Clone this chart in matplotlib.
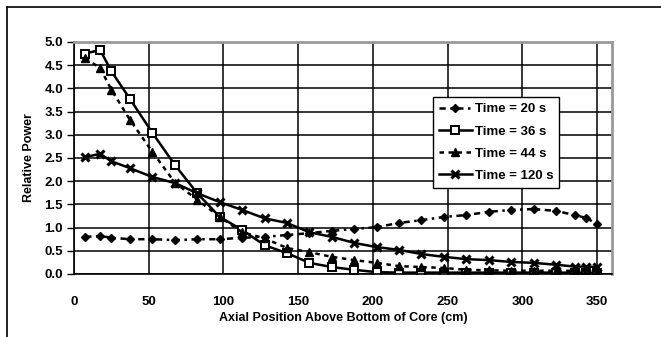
import numpy as np
import matplotlib.pyplot as plt
from matplotlib.lines import Line2D

plt.rcParams['font.family'] = ['Liberation Sans', 'DejaVu Sans']
plt.rcParams['font.weight'] = 'bold'

# axial node positions (cm)
pos = [7.5, 17.5, 25, 37.5, 52.5, 67.5, 82.5, 97.5, 112.5, 127.5, 142.5, 157.5, 172.5,
       187.5, 202.5, 217.5, 232.5, 247.5, 262.5, 277.5, 292.5, 307.5, 322.5, 335, 342.5, 350]

p20 = [0.80, 0.82, 0.78, 0.75, 0.75, 0.73, 0.75, 0.75, 0.78, 0.80, 0.84, 0.88, 0.93,
       0.97, 1.01, 1.10, 1.16, 1.23, 1.27, 1.34, 1.38, 1.40, 1.36, 1.27, 1.21, 1.08]
p36 = [4.75, 4.83, 4.37, 3.77, 3.04, 2.35, 1.74, 1.23, 0.95, 0.62, 0.45, 0.24, 0.15,
       0.09, 0.04, 0.03, 0.03, 0.03, 0.03, 0.03, 0.03, 0.03, 0.03, 0.03, 0.03, 0.03]
p44 = [4.65, 4.44, 3.97, 3.32, 2.63, 1.97, 1.60, 1.23, 0.90, 0.77, 0.56, 0.47, 0.37,
       0.30, 0.24, 0.17, 0.15, 0.13, 0.09, 0.08, 0.07, 0.07, 0.07, 0.07, 0.07, 0.07]
p120 = [2.52, 2.59, 2.43, 2.28, 2.09, 1.96, 1.74, 1.55, 1.38, 1.20, 1.10, 0.90, 0.80,
        0.67, 0.58, 0.52, 0.43, 0.37, 0.32, 0.30, 0.26, 0.24, 0.20, 0.16, 0.16, 0.15]

fig = plt.figure(figsize=(6.61, 3.37), dpi=100)
ax = fig.add_axes([74/661, 1 - 274/337, 538/661, 232/337])

ax.plot(pos, p20, color='black', lw=1.8, ls=(0, (2.5, 1.8, 1, 1.8)), marker='D', ms=4.5,
        label='Time = 20 s')
ax.plot(pos, p36, color='black', lw=1.8, ls='-', marker='s', ms=5.5, mfc='white', mew=1.4,
        label='Time = 36 s')
ax.plot(pos, p44, color='black', lw=1.8, ls=(0, (1.8, 1.8)), marker='^', ms=5.5,
        label='Time = 44 s')
ax.plot(pos, p120, color='black', lw=1.8, ls='-', marker='x', ms=5.5, mew=2.2,
        label='Time = 120 s')

ax.set_xlim(0, 360)
ax.set_ylim(0, 5.0)
ax.set_xticks(np.arange(0, 351, 50))
ax.set_yticks(np.arange(0, 5.01, 0.5))
ax.set_yticklabels(['%.1f' % v for v in np.arange(0, 5.01, 0.5)])
ax.grid(True, color='black', lw=1.1)
ax.set_axisbelow(True)
ax.tick_params(axis='x', length=0, pad=16, labelsize=9.5)
ax.tick_params(axis='y', length=5, width=1, pad=3, labelsize=9.5)
for lbl in ax.get_xticklabels() + ax.get_yticklabels():
    lbl.set_fontweight('bold')

for s in ['top', 'right']:
    ax.spines[s].set_color('#999999')
    ax.spines[s].set_linewidth(2)
for s in ['left', 'bottom']:
    ax.spines[s].set_color('black')
    ax.spines[s].set_linewidth(1.2)

ax.set_xlabel('Axial Position Above Bottom of Core (cm)', fontsize=9, fontweight='bold', labelpad=3)
ax.set_ylabel('Relative Power', fontsize=9, fontweight='bold', labelpad=7)

leg = ax.legend(loc='upper left', bbox_to_anchor=(0.655, 0.79), fontsize=9.5,
                frameon=True, fancybox=False, edgecolor='black', framealpha=1,
                handlelength=2.5, handletextpad=0.2, borderpad=0.45, labelspacing=0.75)
leg.get_frame().set_linewidth(1)
for t in leg.get_texts():
    t.set_fontweight('bold')

# outer frame lines (top and left)
fig.add_artist(Line2D([7/661, 1], [1 - 7/337, 1 - 7/337], color='black', lw=1.2,
                      transform=fig.transFigure))
fig.add_artist(Line2D([7/661, 7/661], [0, 1 - 7/337], color='black', lw=1.2,
                      transform=fig.transFigure))

fig.savefig('out.png', dpi=100)
